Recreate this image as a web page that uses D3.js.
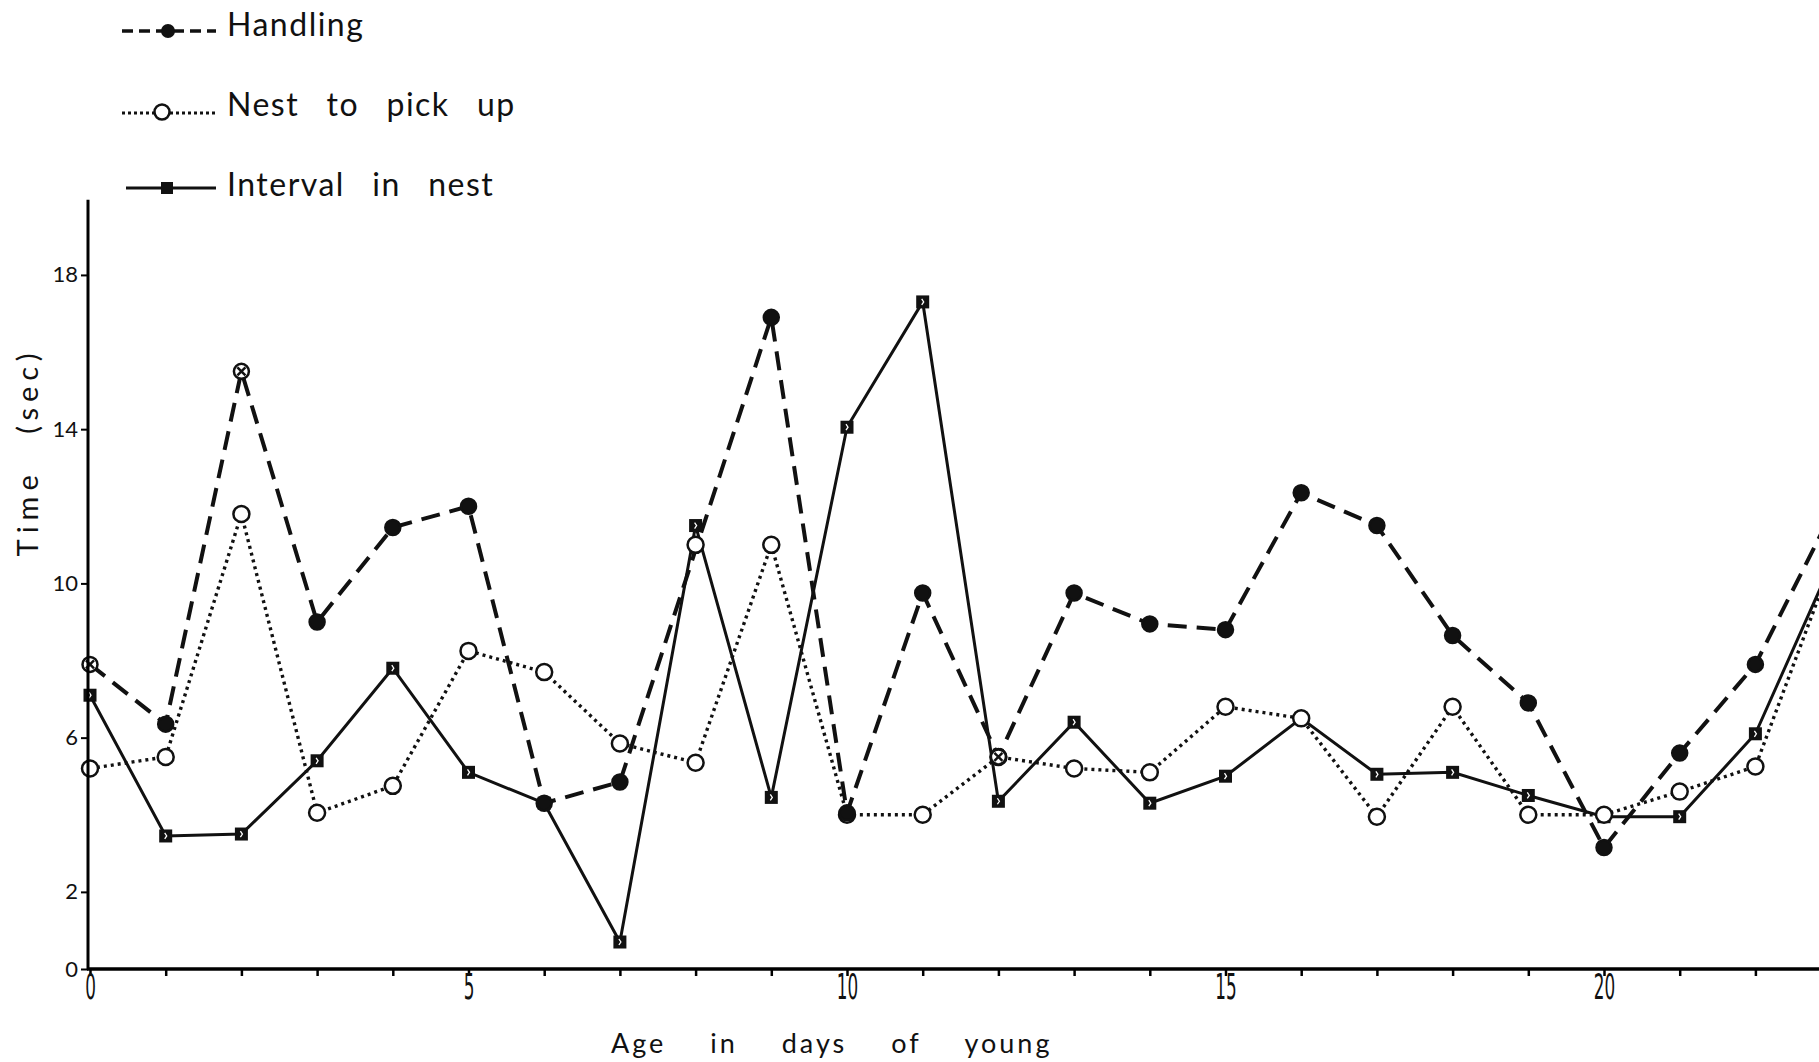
<!DOCTYPE html>
<html>
<head>
<meta charset="utf-8">
<script src="https://cdn.jsdelivr.net/npm/d3@7"></script>
<style>
  html, body { margin: 0; padding: 0; background: #fff; }
  svg { display: block; }
  text { font-family: Lato, "DejaVu Sans", sans-serif; fill: #111; }
</style>
</head>
<body>
<svg id="chart" width="1819" height="1062"></svg>
<script>
// age of young (days)
var days = [0, 1, 2, 3, 4, 5, 6, 7, 8, 9, 10, 11, 12, 13, 14, 15, 16, 17, 18, 19, 20, 21, 22, 23];
// time in seconds (null = no point drawn)
var handling = [7.9, 6.35, 15.5, 9.0, 11.45, 12.0, 4.3, 4.85, null, 16.9, 4.05, 9.75, 5.5, 9.75, 8.95, 8.8, 12.35, 11.5, 8.65, 6.9, 3.15, 5.6, 7.9, 11.8];
var nestToPickUp = [5.2, 5.5, 11.8, 4.05, 4.75, 8.25, 7.7, 5.85, 5.35, 11.0, 4.0, 4.0, 5.5, 5.2, 5.1, 6.8, 6.5, 3.95, 6.8, 4.0, 4.0, 4.6, 5.25, 10.5];
var intervalInNest = [7.1, 3.45, 3.5, 5.4, 7.8, 5.1, 4.3, 0.7, 11.5, 4.45, 14.05, 17.3, 4.35, 6.4, 4.3, 5.0, 6.5, 5.05, 5.1, 4.5, 3.95, 3.95, 6.1, 10.5];
// stray open circle printed at day 8
var nestExtra = [{ day: 8, value: 11.0 }];
// handling markers printed as hatched circles
var handlingHatched = [0, 2, 12];

var yTicks = [0, 2, 6, 10, 14, 18];
var xLabelTicks = [0, 5, 10, 15, 20];
var legendNames = ["Handling", "Nest  to  pick  up", "Interval  in  nest"];

var svg = d3.select("#chart");
var width = 1819, height = 1062;

var xScale = d3.scaleLinear().domain([0, 23]).range([90, 90 + 23 * 75.7]);
var yScale = d3.scaleLinear().domain([0, 20]).range([969, 969 - 20 * 38.56]);

function toPoints(values) {
    return days.map(function(d, i) { return { day: d, value: values[i] }; })
               .filter(function(p) { return p.value !== null; });
}

var handlingPts = toPoints(handling);
var nestPts = toPoints(nestToPickUp);
var intervalPts = toPoints(intervalInNest);

var line = d3.line().x(d => xScale(d.day)).y(d => yScale(d.value));

var plotG = svg.append("g");

// Axes
var xAxis = svg.append("g")
    .attr("transform", `translate(0, ${yScale(0)})`)
    .call(d3.axisBottom(xScale)
        .tickValues(days)
        .tickSize(7)
        .tickFormat(d => xLabelTicks.indexOf(d) >= 0 ? d : ""));
xAxis.select(".domain").attr("stroke-width", 3.5).attr("d", `M${xScale(0) - 3},0H${width}`);
xAxis.selectAll(".tick line").attr("stroke-width", 2.5);
// tall, narrow digits like the printed figure
xAxis.selectAll(".tick text")
    .style("font-family", "'DejaVu Sans Condensed', 'DejaVu Sans', sans-serif")
    .style("font-size", "26px")
    .attr("transform", "scale(0.72,1.35)")
    .attr("y", 22.5)
    .attr("dy", null);

var yAxis = svg.append("g")
    .attr("transform", `translate(${xScale(0) - 2}, 0)`)
    .call(d3.axisLeft(yScale)
        .tickValues(yTicks)
        .tickSize(7)
        .tickPadding(3));
yAxis.select(".domain").attr("stroke-width", 3).attr("d", `M0,${yScale(0)}V${yScale(20) + 2}`);
yAxis.selectAll(".tick line").attr("stroke-width", 2);
yAxis.selectAll(".tick text").style("font-size", "22px");

// Lines
plotG.append("path").datum(intervalPts)
    .attr("d", line).attr("fill", "none").attr("stroke", "#111").attr("stroke-width", 3);
plotG.append("path").datum(nestPts)
    .attr("d", line).attr("fill", "none").attr("stroke", "#111").attr("stroke-width", 3.4)
    .attr("stroke-dasharray", "3,4");
plotG.append("path").datum(handlingPts)
    .attr("d", line).attr("fill", "none").attr("stroke", "#111").attr("stroke-width", 4)
    .attr("stroke-dasharray", "19,10");

// Markers
plotG.selectAll(".sq").data(intervalPts).enter().append("rect")
    .attr("class", "sq")
    .attr("x", d => xScale(d.day) - 6.5).attr("y", d => yScale(d.value) - 6.5)
    .attr("width", 13).attr("height", 13).attr("fill", "#111");
plotG.selectAll(".sqmark").data(intervalPts).enter().append("path")
    .attr("class", "sqmark")
    .attr("d", d => `M${xScale(d.day) - 1},${yScale(d.value) - 3}l2,3l-2,3`)
    .attr("fill", "none").attr("stroke", "#fff").attr("stroke-width", 1.3);

plotG.selectAll(".oc").data(nestPts.concat(nestExtra)).enter().append("circle")
    .attr("class", "oc")
    .attr("cx", d => xScale(d.day)).attr("cy", d => yScale(d.value))
    .attr("r", 8).attr("fill", "#fff").attr("stroke", "#111").attr("stroke-width", 2.5);

plotG.selectAll(".fc").data(handlingPts).enter().append("circle")
    .attr("class", "fc")
    .attr("cx", d => xScale(d.day)).attr("cy", d => yScale(d.value))
    .attr("r", 7.5)
    .attr("fill", d => handlingHatched.indexOf(d.day) >= 0 ? "#fff" : "#111")
    .attr("stroke", "#111").attr("stroke-width", 2.5);
plotG.selectAll(".fcx").data(handlingPts.filter(d => handlingHatched.indexOf(d.day) >= 0)).enter().append("path")
    .attr("class", "fcx")
    .attr("d", d => { var cx = xScale(d.day), cy = yScale(d.value);
        return `M${cx - 4},${cy - 4}L${cx + 4},${cy + 4}M${cx + 4},${cy - 4}L${cx - 4},${cy + 4}`; })
    .attr("stroke", "#111").attr("stroke-width", 2.5);

// Legend
var legend = svg.append("g");
var legendY = [36, 116, 196];
var lx0 = 122, lx1 = 216, lxm = 168, textX = 227;

legend.append("path").attr("d", `M${lx0},${legendY[0] - 5}H${lx1}`)
    .attr("stroke", "#111").attr("stroke-width", 3.5).attr("stroke-dasharray", "11,6");
legend.append("circle").attr("cx", lxm).attr("cy", legendY[0] - 5).attr("r", 7).attr("fill", "#111");

legend.append("path").attr("d", `M${lx0},${legendY[1] - 3}H${lx1}`)
    .attr("stroke", "#111").attr("stroke-width", 3).attr("stroke-dasharray", "3,3");
legend.append("circle").attr("cx", lxm - 6).attr("cy", legendY[1] - 4).attr("r", 7.5)
    .attr("fill", "#fff").attr("stroke", "#111").attr("stroke-width", 2.5);

legend.append("path").attr("d", `M${lx0 + 4},${legendY[2] - 8}H${lx1}`)
    .attr("stroke", "#111").attr("stroke-width", 3);
legend.append("rect").attr("x", lxm - 7).attr("y", legendY[2] - 14).attr("width", 12).attr("height", 12).attr("fill", "#111");

legend.selectAll(".ltext").data(legendNames).enter().append("text")
    .attr("class", "ltext")
    .attr("x", textX).attr("y", (d, i) => legendY[i])
    .style("font-size", "32px")
    .style("letter-spacing", "1.5px")
    .style("white-space", "pre")
    .attr("xml:space", "preserve")
    .style("word-spacing", "4px")
    .text(d => d);

// Axis titles
svg.append("text")
    .attr("transform", `translate(38, 452) rotate(-90)`)
    .attr("text-anchor", "middle")
    .style("font-size", "29px")
    .style("letter-spacing", "6px")
    .style("word-spacing", "22px")
    .text("Time (sec)");

svg.append("text")
    .attr("x", 611).attr("y", 1053)
    .style("font-size", "27px")
    .style("letter-spacing", "3px")
    .style("word-spacing", "34px")
    .text("Age in days of young");
</script>
</body>
</html>
